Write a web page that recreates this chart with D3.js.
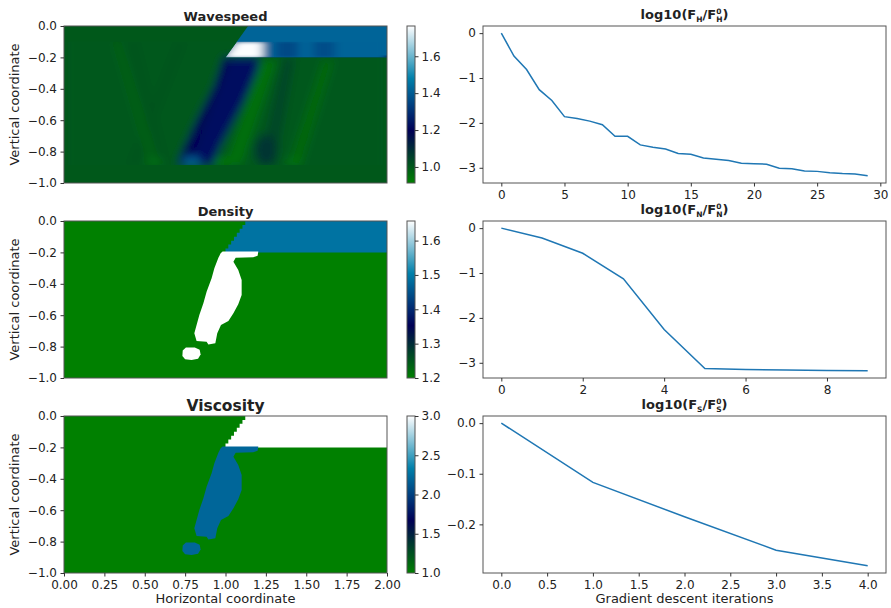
<!DOCTYPE html>
<meta charset="utf-8">
<script src="https://cdn.jsdelivr.net/npm/d3@7"></script>
<style>
body { margin: 0; background: #fff; }
svg text { font-family: "DejaVu Sans", sans-serif; fill: #222; }
</style>
<body>
<div id="chart"></div>
<script>

// ---- line plot data ----
var fhVals = [0, -0.51, -0.81, -1.26, -1.50, -1.86, -1.90, -1.96, -2.04, -2.30, -2.30, -2.49, -2.54, -2.58, -2.68,
              -2.70, -2.78, -2.81, -2.84, -2.90, -2.91, -2.92, -3.01, -3.02, -3.07, -3.08, -3.11, -3.13, -3.14, -3.18];
var fnVals = [0, -0.22, -0.56, -1.13, -2.26, -3.13, -3.15, -3.16, -3.17, -3.18];
var fsVals = [0, -0.117, -0.185, -0.251, -0.282];

var fhTicksX = [0, 5, 10, 15, 20, 25, 30];
var fnTicksX = [0, 2, 4, 6, 8];
var fsTicksX = [0, 0.5, 1, 1.5, 2, 2.5, 3, 3.5, 4];
var logTicksY = [0, -1, -2, -3];
var fsTicksY = [0, -0.1, -0.2];

// ---- field plots ----
var fieldTicksY = [0, -0.2, -0.4, -0.6, -0.8, -1.0];
var fieldTicksX = [0, 0.25, 0.5, 0.75, 1.0, 1.25, 1.5, 1.75, 2.0];

var wsDomain = [0.913, 1.764], wsTicks = [1.0, 1.2, 1.4, 1.6];
var dnDomain = [1.2, 1.657],   dnTicks = [1.2, 1.3, 1.4, 1.5, 1.6];
var vsDomain = [1.0, 3.0],     vsTicks = [1.0, 1.5, 2.0, 2.5, 3.0];

// shapes in (horizontal, vertical) coordinates
var fullBox   = [[0, 0], [2, 0], [2, -1], [0, -1]];
var topLayerSmooth = [[1.14, 0], [2, 0], [2, -0.2], [1.0, -0.2]];
var topLayerSteps  = [[1.14, 0], [2, 0], [2, -0.2], [1.0, -0.2], [1.0, -0.175], [1.0175, -0.175], [1.0175, -0.15],
                      [1.035, -0.15], [1.035, -0.125], [1.0525, -0.125], [1.0525, -0.1], [1.07, -0.1], [1.07, -0.075],
                      [1.0875, -0.075], [1.0875, -0.05], [1.105, -0.05], [1.105, -0.025], [1.1225, -0.025], [1.1225, 0]];
var blobMain  = [[0.982, -0.195], [1.203, -0.195], [1.199, -0.221], [1.172, -0.231], [1.063, -0.234], [1.049, -0.259],
                 [1.079, -0.312], [1.100, -0.376], [1.100, -0.471], [1.079, -0.531], [1.049, -0.588], [1.018, -0.637],
                 [0.972, -0.662], [0.949, -0.715], [0.937, -0.779], [0.894, -0.786], [0.883, -0.769], [0.821, -0.764],
                 [0.807, -0.715], [0.821, -0.662], [0.838, -0.599], [0.863, -0.524], [0.883, -0.450], [0.914, -0.365],
                 [0.931, -0.301], [0.956, -0.234], [0.970, -0.206]];
var blobSmall = [[0.735, -0.825], [0.755, -0.806], [0.81, -0.805], [0.84, -0.82], [0.846, -0.85], [0.83, -0.878],
                 [0.79, -0.885], [0.75, -0.88], [0.733, -0.86]];

var dnValues = {back: 1.2, top: 1.49, blob: 1.657};
var vsValues = {back: 1.0, top: 3.0, blob: 2.2};

// wavespeed: smooth field pieces
var wsBack = 1.0, wsTopValue = 1.42;
var wsUpperClip = [[1.07, -0.1], [2, -0.1], [2, -0.2], [1.0, -0.2]];
var wsUpper = [
  {pts: [[1.0, -0.2], [1.07, -0.105], [1.23, -0.105], [1.23, -0.2]], v: 1.76},
  {pts: [[1.31, -0.1], [1.45, -0.1], [1.45, -0.2], [1.31, -0.2]], v: 1.36},
  {pts: [[1.54, -0.1], [1.68, -0.1], [1.68, -0.2], [1.54, -0.2]], v: 1.37}
];
var wsEdgeLine = [[1.2, -0.188], [2, -0.188], [2, -0.2], [1.2, -0.2]];
var wsEdgeValue = 1.15;
var wsLowerClip = [[0, -0.1], [1.07, -0.1], [1.0, -0.2], [2, -0.2], [2, -0.885], [0, -0.885]];
var wsLower = [
  {pts: [[0.40, -0.1], [0.45, -0.1], [0.64, -0.885], [0.59, -0.885]], v: 1.015},
  {pts: [[0.70, -0.1], [0.75, -0.1], [0.45, -0.885], [0.40, -0.885]], v: 1.015},
  {pts: [[0.30, -0.1], [0.35, -0.1], [0.60, -0.885], [0.52, -0.885]], v: 0.985},
  {ell: [0.56, -0.865, 0.05, 0.025], v: 0.95},
  {pts: [[1.22, -0.22], [1.32, -0.22], [1.10, -0.885], [1.00, -0.885]], v: 0.95},
  {pts: [[1.36, -0.2], [1.43, -0.2], [1.31, -0.885], [1.21, -0.885]], v: 1.04},
  {ell: [1.25, -0.79, 0.07, 0.1], v: 1.08},
  {pts: [[1.60, -0.22], [1.67, -0.22], [1.47, -0.885], [1.39, -0.885]], v: 0.965},
  {pts: [[0.985, -0.2], [1.21, -0.2], [1.2, -0.28], [1.11, -0.49], [1.0, -0.70], [0.95, -0.8], [0.935, -0.885],
         [0.70, -0.885], [0.73, -0.80], [0.82, -0.60], [0.93, -0.38], [0.975, -0.24]], v: 1.235},
  {pts: [[0.985, -0.2], [1.04, -0.2], [0.78, -0.885], [0.70, -0.885], [0.73, -0.80], [0.82, -0.60], [0.93, -0.38]], v: 1.19},
  {ell: [0.79, -0.86, 0.06, 0.03], v: 1.4},
  {ell: [0.98, -0.865, 0.06, 0.025], v: 0.93},
  {ell: [1.42, -0.865, 0.05, 0.025], v: 0.94}
];

// ---- layout ----
var W = 891, H = 608;
var rowTop = [26, 221, 416], rowH = 157;
var leftX = 64, leftW = 323, cbX = 407, cbW = 8;
var rightX = 483, rightW = 403;

// matplotlib "ocean" colormap
function ocean(t) {
  t = Math.max(0, Math.min(1, t));
  var c = function(v) { return Math.round(Math.max(0, Math.min(1, v)) * 255); };
  return "rgb(" + c(3 * t - 2) + "," + c(Math.abs((3 * t - 1) / 2)) + "," + c(t) + ")";
}

var svg = d3.select("#chart").append("svg")
    .attr("width", W)
    .attr("height", H);
var defs = svg.append("defs");

// ocean gradient for the colour bars
var grad = defs.append("linearGradient").attr("id", "oceanGrad")
    .attr("x1", 0).attr("y1", 1).attr("x2", 0).attr("y2", 0);
d3.range(0, 1.0001, 1 / 30).forEach(function(t) {
  grad.append("stop").attr("offset", t).attr("stop-color", ocean(t));
});

function styleAxis(g, size) {
  g.select(".domain").remove();
  g.selectAll(".tick line").attr("stroke", "#333");
  g.selectAll(".tick text").attr("font-size", size || 12).attr("fill", "#222");
}

function frame(g, w, h) {
  g.append("rect").attr("width", w).attr("height", h)
    .attr("fill", "none").attr("stroke", "#555").attr("stroke-width", 1);
}

// ---- field panel ----
function fieldPanel(p) {
  var top = rowTop[p.row];
  var g = svg.append("g").attr("transform", "translate(" + leftX + "," + top + ")");
  var x = d3.scaleLinear().domain([0, 2]).range([0, leftW]);
  var y = d3.scaleLinear().domain([-1, 0]).range([rowH, 0]);
  var color = d3.scaleSequential(ocean).domain(p.domain);
  var poly = d3.line().x(function(d) { return x(d[0]); }).y(function(d) { return y(d[1]); });

  function drawShapes(sel, shapes) {
    shapes.forEach(function(s) {
      if (s.ell) {
        sel.append("ellipse")
          .attr("cx", x(s.ell[0])).attr("cy", y(s.ell[1]))
          .attr("rx", x(s.ell[2]) - x(0)).attr("ry", y(-s.ell[3]) - y(0))
          .attr("fill", color(s.v));
      } else {
        sel.append("path").attr("d", poly(s.pts) + "Z").attr("fill", color(s.v));
      }
    });
  }

  var clipAll = "clipAll" + p.row;
  defs.append("clipPath").attr("id", clipAll).append("rect").attr("width", leftW).attr("height", rowH);
  var field = g.append("g").attr("clip-path", "url(#" + clipAll + ")");

  p.layers.forEach(function(layer, i) {
    if (layer.blur) {
      var cid = "clip" + p.row + "_" + i, fid = "blur" + p.row + "_" + i;
      defs.append("clipPath").attr("id", cid).append("path").attr("d", poly(layer.clip) + "Z")
        .attr("transform", "translate(" + leftX + "," + top + ")");
      defs.append("filter").attr("id", fid).attr("filterUnits", "userSpaceOnUse")
        .attr("x", -20).attr("y", -20).attr("width", leftW + 40).attr("height", rowH + 40)
        .append("feGaussianBlur").attr("stdDeviation", layer.blur);
      var outer = svg.append("g").attr("clip-path", "url(#" + cid + ")");
      var inner = outer.append("g").attr("transform", "translate(" + leftX + "," + top + ")")
        .append("g").attr("filter", "url(#" + fid + ")");
      drawShapes(inner, layer.shapes);
    } else {
      drawShapes(field, layer.shapes);
    }
  });

  // axes on top
  var ga = svg.append("g").attr("transform", "translate(" + leftX + "," + top + ")");
  frame(ga, leftW, rowH);
  ga.append("g")
    .call(d3.axisLeft(y).tickValues(fieldTicksY).tickFormat(d3.format(".1f")).tickSize(3.5).tickPadding(3.5))
    .call(styleAxis);
  if (p.showX) {
    ga.append("g").attr("transform", "translate(0," + rowH + ")")
      .call(d3.axisBottom(x).tickValues(fieldTicksX).tickFormat(d3.format(".2f")).tickSize(3.5).tickPadding(3.5))
      .call(styleAxis);
    ga.append("text").attr("x", leftW / 2).attr("y", 603 - top)
      .attr("text-anchor", "middle").attr("font-size", 13).text("Horizontal coordinate");
  }
  ga.append("text").attr("transform", "translate(" + (14 - leftX) + "," + rowH / 2 + ") rotate(-90)")
    .attr("text-anchor", "middle").attr("dy", "0.35em").attr("font-size", 13).text("Vertical coordinate");
  ga.append("text").attr("x", leftW / 2).attr("y", -5.5)
    .attr("text-anchor", "middle").attr("font-weight", "bold")
    .attr("font-size", p.titleSize).text(p.title);

  // colour bar
  var cb = svg.append("g").attr("transform", "translate(" + cbX + "," + top + ")");
  var cy = d3.scaleLinear().domain(p.domain).range([rowH, 0]);
  cb.append("rect").attr("width", cbW).attr("height", rowH).attr("fill", "url(#oceanGrad)");
  frame(cb, cbW, rowH);
  cb.append("g").attr("transform", "translate(" + cbW + ",0)")
    .call(d3.axisRight(cy).tickValues(p.ticks).tickFormat(d3.format(".1f")).tickSize(3.5).tickPadding(3))
    .call(styleAxis);
}

fieldPanel({
  row: 0, title: "Wavespeed", titleSize: 13, domain: wsDomain, ticks: wsTicks,
  layers: [
    {shapes: [{pts: fullBox, v: wsBack}, {pts: topLayerSmooth, v: wsTopValue}]},
    {blur: "5 1.5", clip: wsUpperClip, shapes: [{pts: fullBox, v: wsTopValue}].concat(wsUpper)},
    {blur: 4, clip: wsLowerClip, shapes: [{pts: fullBox, v: wsBack}].concat(wsLower)},
    {shapes: [{pts: wsEdgeLine, v: wsEdgeValue}]}
  ]
});

fieldPanel({
  row: 1, title: "Density", titleSize: 13, domain: dnDomain, ticks: dnTicks,
  layers: [{shapes: [
    {pts: fullBox, v: dnValues.back}, {pts: topLayerSteps, v: dnValues.top},
    {pts: blobMain, v: dnValues.blob}, {pts: blobSmall, v: dnValues.blob}
  ]}]
});

fieldPanel({
  row: 2, title: "Viscosity", titleSize: 15.5, domain: vsDomain, ticks: vsTicks, showX: true,
  layers: [{shapes: [
    {pts: fullBox, v: vsValues.back}, {pts: topLayerSteps, v: vsValues.top},
    {pts: blobMain, v: vsValues.blob}, {pts: blobSmall, v: vsValues.blob}
  ]}]
});

// ---- convergence panels ----
function pad(ext) {
  var m = (ext[1] - ext[0]) * 0.05;
  return [ext[0] - m, ext[1] + m];
}

function linePanel(p) {
  var top = rowTop[p.row];
  var g = svg.append("g").attr("transform", "translate(" + rightX + "," + top + ")");
  var x = d3.scaleLinear().domain(pad([0, p.values.length - 1])).range([0, rightW]);
  var y = d3.scaleLinear().domain(pad(d3.extent(p.values))).range([rowH, 0]);

  g.append("path").datum(p.values)
    .attr("fill", "none").attr("stroke", "#1f77b4").attr("stroke-width", 1.5)
    .attr("d", d3.line().x(function(d, i) { return x(i); }).y(function(d) { return y(d); }));

  frame(g, rightW, rowH);
  g.append("g").attr("transform", "translate(0," + rowH + ")")
    .call(d3.axisBottom(x).tickValues(p.ticksX).tickFormat(d3.format(p.fmtX)).tickSize(3.5).tickPadding(3.5))
    .call(styleAxis);
  g.append("g")
    .call(d3.axisLeft(y).tickValues(p.ticksY).tickFormat(d3.format(p.fmtY)).tickSize(3.5).tickPadding(3.5))
    .call(styleAxis);
  if (p.xlabel) {
    g.append("text").attr("x", rightW / 2).attr("y", 603 - top)
      .attr("text-anchor", "middle").attr("font-size", 13).text(p.xlabel);
  }

  // title log10(F_s / F_s^0), scripts drawn as their own small texts
  var base = -7;
  var tg = g.append("g").attr("font-weight", "bold");
  function piece(txt, size, dy) {
    return tg.append("text").attr("font-size", size).attr("y", base + dy).text(txt);
  }
  var a = piece("log10(F", 13, 0), b = piece(p.sub, 7.5, 2.6), c = piece("/F", 13, 0),
      d = piece("0", 7.5, -5), e = piece(p.sub, 7.5, 3), f = piece(")", 13, 0);
  var xx = 0;
  a.attr("x", xx); xx += a.node().getComputedTextLength();
  b.attr("x", xx); xx += b.node().getComputedTextLength();
  c.attr("x", xx); xx += c.node().getComputedTextLength();
  d.attr("x", xx); e.attr("x", xx);
  xx += Math.max(d.node().getComputedTextLength(), e.node().getComputedTextLength());
  f.attr("x", xx); xx += f.node().getComputedTextLength();
  tg.attr("transform", "translate(" + (rightW / 2 - xx / 2) + ",0)");
}

linePanel({row: 0, values: fhVals, ticksX: fhTicksX, ticksY: logTicksY, fmtX: "d", fmtY: "d", sub: "H"});
linePanel({row: 1, values: fnVals, ticksX: fnTicksX, ticksY: logTicksY, fmtX: "d", fmtY: "d", sub: "N"});
linePanel({row: 2, values: fsVals, ticksX: fsTicksX, ticksY: fsTicksY, fmtX: ".1f", fmtY: ".1f", sub: "S",
           xlabel: "Gradient descent iterations"});

</script>
</body>
</html>
